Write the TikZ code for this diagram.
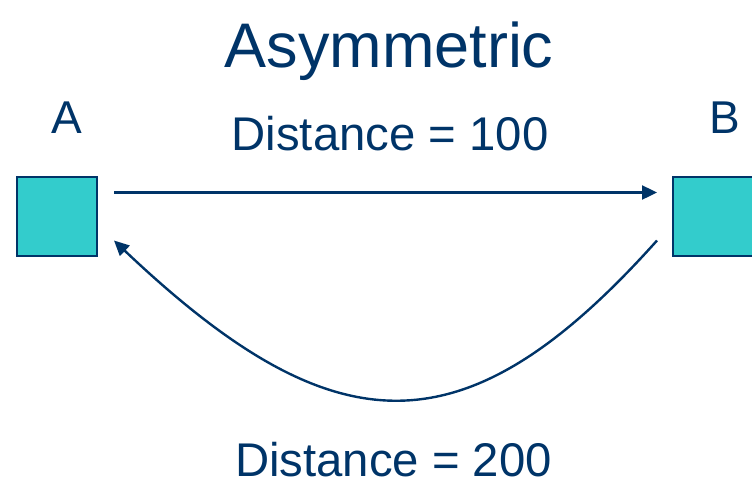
\documentclass[tikz,border=0pt]{standalone}
\usepackage{fontspec}
\setmainfont{Liberation Sans}
\usetikzlibrary{arrows.meta}
\definecolor{navy}{RGB}{0,52,104}
\definecolor{teal1}{RGB}{51,204,204}
\tikzset{
  box/.style={draw=navy, fill=teal1, line width=2pt, minimum width=80pt, minimum height=79pt, inner sep=0pt},
  lbl/.style={text=navy, font=\fontsize{46}{50}\selectfont, anchor=base, inner sep=0pt},
  dist/.style={text=navy, font=\fontsize{47.3}{52}\selectfont, anchor=base, inner sep=0pt},
  ttl/.style={text=navy, font=\fontsize{63}{68}\selectfont, anchor=base, inner sep=0pt},
  conn/.style={draw=navy, line width=2.4pt, -{Triangle[length=15pt,width=14pt]}}
}
\begin{document}
\begin{tikzpicture}[x=1pt,y=-1pt]
\useasboundingbox (0,0) rectangle (752,485);
\node[box] (A) at (57,216.5) {};
\node[box] (B) at (713,216.5) {};
\node[ttl] (T) at (389,67) {Asymmetric};
\node[lbl] (LA) at (67,133) {A};
\node[lbl] (LB) at (724.5,133) {B};
\node[dist] (D1) at (390,150) {Distance = 100};
\node[dist] (D2) at (393.5,476) {Distance = 200};
\coordinate (a1) at ([xshift=16pt,yshift=24pt]A.east);
\coordinate (b1) at ([xshift=-15pt,yshift=24pt]B.west);
\coordinate (b2) at ([xshift=-15pt,yshift=-24pt]B.west);
\coordinate (a2) at ([xshift=16pt,yshift=-24pt]A.east);
\draw[conn] (a1) -- (b1);
\draw[conn] (b2) .. controls (465,455) and (335,450) .. (a2);
\end{tikzpicture}
\end{document}
